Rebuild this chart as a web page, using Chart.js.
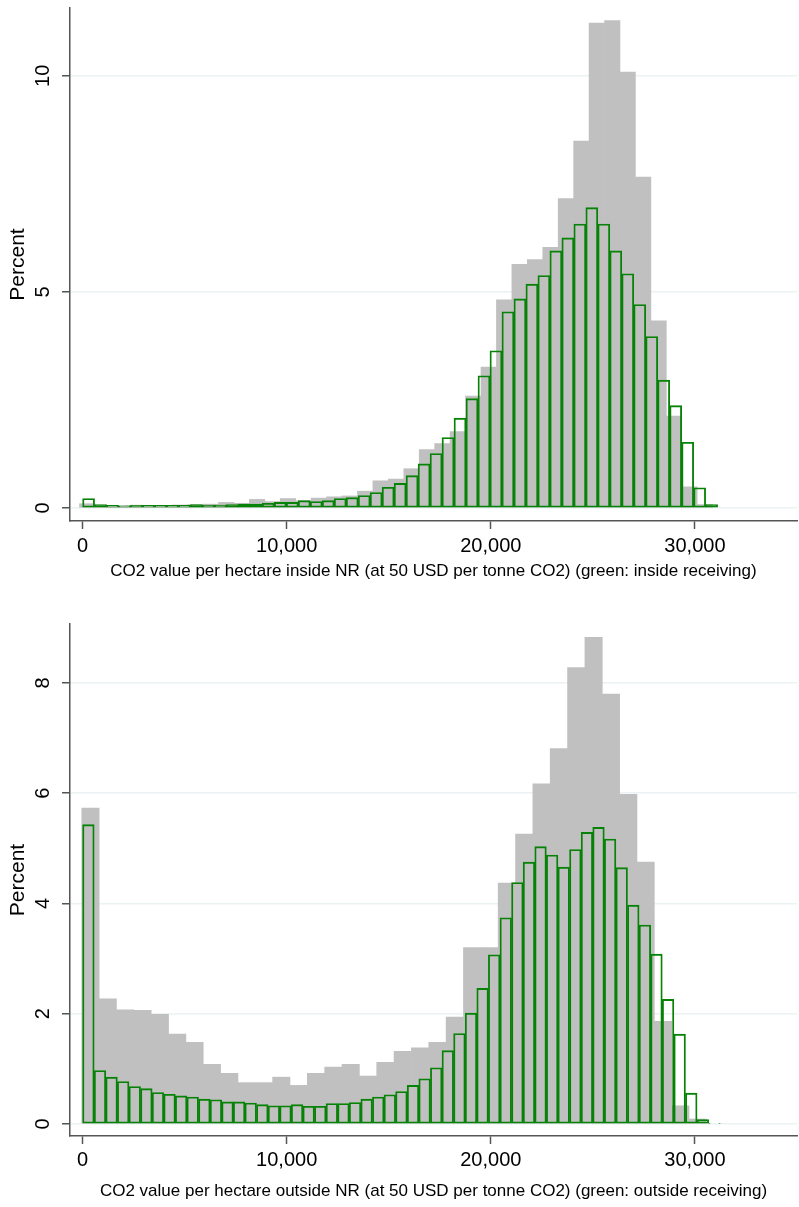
<!DOCTYPE html>
<html>
<head>
<meta charset="utf-8">
<script src="https://cdn.jsdelivr.net/npm/chart.js@4.4.1/dist/chart.umd.min.js"></script>
<style>
  body { margin: 0; background: #fff; }
  canvas { position: absolute; left: 0; }
  #insideChart { top: 0; }
  #outsideChart { top: 600px; }
</style>
</head>
<body>
<canvas id="insideChart" width="799" height="600"></canvas>
<canvas id="outsideChart" width="799" height="607"></canvas>
<script>
// histogram bins: first bin start and bin width (USD per hectare)
const insideAllStart = -150, insideAllWidth = 756.5;
const insideRecvStart = 0, insideRecvWidth = 587;
const outsideAllStart = -40, outsideAllWidth = 850;
const outsideRecvStart = 0, outsideRecvWidth = 568;

// percent per bin (grey = all, green = receiving)
const insideAll = [0.10, 0.06, 0.05, 0.06, 0.06, 0.06, 0.07, 0.08, 0.09, 0.13,
  0.11, 0.20, 0.15, 0.22, 0.17, 0.23, 0.26, 0.28, 0.39, 0.63,
  0.67, 0.91, 1.35, 1.49, 1.77, 2.59, 3.26, 4.82, 5.64, 5.75,
  6.03, 7.16, 8.49, 11.22, 11.28, 10.09, 7.66, 4.33, 2.13, 0.49,
  0.08];
const insideRecv = [0.22, 0.08, 0.06, 0.05, 0.07, 0.06, 0.06, 0.06, 0.06, 0.08,
  0.07, 0.07, 0.08, 0.09, 0.09, 0.11, 0.13, 0.13, 0.17, 0.15,
  0.17, 0.22, 0.24, 0.29, 0.36, 0.48, 0.57, 0.75, 1.02, 1.26,
  1.63, 2.08, 2.53, 3.06, 3.64, 4.54, 4.84, 5.18, 5.38, 5.95,
  6.25, 6.57, 6.95, 6.57, 5.95, 5.42, 4.71, 3.97, 2.96, 2.37,
  1.52, 0.47, 0.08];
const outsideAll = [5.73, 2.27, 2.07, 2.06, 1.99, 1.63, 1.48, 1.08, 0.92, 0.75,
  0.75, 0.85, 0.70, 0.92, 1.03, 1.08, 0.87, 1.12, 1.32, 1.38,
  1.48, 1.94, 3.20, 3.20, 4.37, 5.26, 6.17, 6.81, 8.28, 8.83,
  7.80, 5.98, 4.75, 1.86, 0.33, 0.09];
const outsideRecv = [5.43, 0.97, 0.85, 0.77, 0.68, 0.64, 0.57, 0.54, 0.51, 0.49,
  0.45, 0.44, 0.40, 0.40, 0.38, 0.35, 0.33, 0.33, 0.35, 0.32,
  0.32, 0.37, 0.37, 0.39, 0.45, 0.49, 0.53, 0.59, 0.70, 0.82,
  1.02, 1.33, 1.64, 2.01, 2.46, 3.07, 3.74, 4.38, 4.75, 5.03,
  4.88, 4.66, 4.98, 5.29, 5.38, 5.17, 4.65, 3.97, 3.61, 3.08,
  2.26, 1.63, 0.56, 0.08, 0.01];

const xTickValues = [0, 10000, 20000, 30000];
const insideYTicks = [0, 5, 10];
const outsideYTicks = [0, 2, 4, 6, 8];

Chart.defaults.font.family = '"Liberation Sans", Arial, Helvetica, sans-serif';
Chart.defaults.color = '#000';

const axisGrey = '#555555';
const gridColor = '#eaf2f3';
const xMin = -617, xMax = 35000;

// bar centre = middle of each bin
function toPoints(start, width, values) {
  return values.map((v, i) => ({ x: start + width * (i + 0.5), y: v }));
}

function createHistogram(canvasId, spec) {
  const ctx = document.getElementById(canvasId).getContext('2d');

  return new Chart(ctx, {
    type: 'bar',
    data: {
      datasets: [{
        label: 'receiving',
        data: toPoints(spec.recvStart, spec.recvWidth, spec.recv),
        xAxisID: 'xRecv',
        backgroundColor: 'rgba(0,0,0,0)',
        borderColor: 'rgb(6,130,6)',
        borderWidth: 1.2,
        borderSkipped: false,
        grouped: false,
        barPercentage: 1,
        categoryPercentage: 1,
        order: 0
      }, {
        label: 'all',
        data: toPoints(spec.allStart, spec.allWidth, spec.all),
        xAxisID: 'x',
        backgroundColor: '#c0c0c0',
        borderWidth: 0,
        grouped: false,
        barPercentage: 1,
        categoryPercentage: 1,
        order: 1
      }]
    },
    options: {
      responsive: false, // fixed size canvas
      animation: false,
      layout: {
        padding: { top: spec.padTop, right: 2, bottom: 0, left: 0 }
      },
      plugins: {
        legend: { display: false },
        tooltip: { enabled: false }
      },
      scales: {
        x: {
          type: 'linear',
          min: xMin,
          max: xMax,
          offset: false,
          afterBuildTicks: scale => { scale.ticks = xTickValues.map(v => ({ value: v })); },
          afterFit: scale => {
            scale.height = spec.xAxisHeight;
            scale.paddingLeft = 0;
            scale.paddingRight = 0;
          },
          grid: { offset: false, drawOnChartArea: false, tickLength: 8, tickColor: axisGrey, tickWidth: 1.5 },
          border: { display: true, color: axisGrey, width: 1.5 },
          ticks: {
            font: { size: 20 },
            padding: spec.xTickPad,
            callback: v => v.toLocaleString('en-US')
          },
          title: {
            display: true,
            text: spec.xTitle,
            font: { size: 17 },
            padding: { top: 0, bottom: spec.xTitlePad }
          }
        },
        xRecv: {
          type: 'linear',
          display: false,
          offset: false,
          grid: { offset: false },
          min: xMin,
          max: xMax
        },
        y: {
          min: spec.yMin,
          max: spec.yMax,
          afterBuildTicks: scale => { scale.ticks = spec.yTicks.map(v => ({ value: v })); },
          afterFit: scale => {
            scale.width = 70;
            scale.paddingTop = 0;
            scale.paddingBottom = 0;
          },
          grid: { color: gridColor, lineWidth: 1.5, tickLength: 8, tickColor: axisGrey, tickWidth: 1.5 },
          border: { display: true, color: axisGrey, width: 1.5 },
          ticks: {
            font: { size: 20 },
            minRotation: 90,
            maxRotation: 90,
            crossAlign: 'center',
            padding: spec.yTickPad
          },
          title: {
            display: true,
            text: 'Percent',
            font: { size: 21 },
            padding: { top: 6, bottom: 0 }
          }
        }
      }
    }
  });
}

createHistogram('insideChart', {
  all: insideAll, allStart: insideAllStart, allWidth: insideAllWidth,
  recv: insideRecv, recvStart: insideRecvStart, recvWidth: insideRecvWidth,
  yTicks: insideYTicks, yMin: -0.30, yMax: 11.57,
  padTop: 8, xAxisHeight: 79, xTickPad: 5, xTitlePad: 18, yTickPad: 7,
  xTitle: 'CO2 value per hectare inside NR (at 50 USD per tonne CO2) (green: inside receiving)'
});

createHistogram('outsideChart', {
  all: outsideAll, allStart: outsideAllStart, allWidth: outsideAllWidth,
  recv: outsideRecv, recvStart: outsideRecvStart, recvWidth: outsideRecvWidth,
  yTicks: outsideYTicks, yMin: -0.218, yMax: 9.07,
  padTop: 24, xAxisHeight: 71, xTickPad: 4, xTitlePad: 5, yTickPad: 12.5,
  xTitle: 'CO2 value per hectare outside NR (at 50 USD per tonne CO2) (green: outside receiving)'
});
</script>
</body>
</html>
